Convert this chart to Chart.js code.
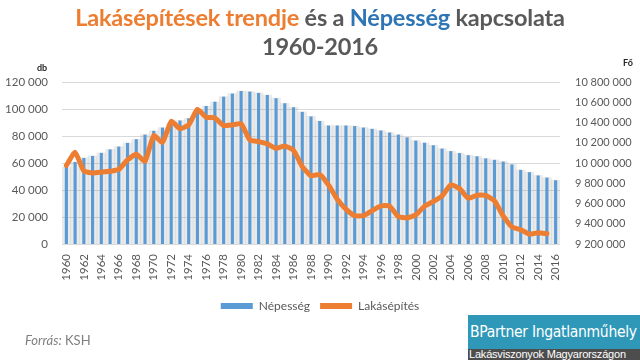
<!DOCTYPE html>
<html>
<head>
<meta charset="utf-8">
<script src="https://cdn.jsdelivr.net/npm/chart.js@4.4.1/dist/chart.umd.min.js"></script>
<style>
  html, body { margin: 0; padding: 0; background: #fff; }
  #wrap { position: relative; width: 640px; height: 360px; overflow: hidden; font-family: Lato, "Noto Sans", sans-serif; }
  #c { position: absolute; left: 0; top: 0; }
  .title { position: absolute; left: 0; width: 640px; text-align: center; font-weight: 700; font-size: 23.5px; line-height: 28px; color: #595959; letter-spacing: -0.2px; }
  .o { color: #ED7D31; } .b { color: #2E75B6; }
  .unit { position: absolute; font-weight: 700; font-size: 9px; color: #262626; }
  #src { position: absolute; left: 25px; top: 332px; font-size: 13px; color: #7f7f7f; }
  #logo { position: absolute; left: 468px; top: 315px; width: 172px; height: 45px; }
  #logo .top { height: 34px; background: #2f98b8; color: #fff; font-family: "DejaVu Sans Condensed", "Liberation Sans Narrow", sans-serif; font-size: 15.5px; line-height: 34px; padding-left: 2px; white-space: nowrap; letter-spacing: -0.3px; }
  #logo .bot { height: 11px; background: #4d4d4d; color: #fff; font-family: "Liberation Sans", sans-serif; font-size: 11px; line-height: 11px; padding-left: 1px; white-space: nowrap; letter-spacing: -0.2px; }
</style>
</head>
<body>
<div id="wrap">
  <canvas id="c" width="640" height="360"></canvas>
  <div class="title" style="top:3px;"><span class="o">Lakásépítések trendje</span> és a <span class="b">Népesség</span> kapcsolata</div>
  <div class="title" style="top:32px;">1960-2016</div>
  <div class="unit" style="left:37px; top:62px;">db</div>
  <div class="unit" style="left:623px; top:57px;">Fő</div>
  <div id="src"><i>Forrás:</i> KSH</div>
  <div id="logo"><div class="top">BPartner Ingatlanműhely</div><div class="bot">Lakásviszonyok Magyarországon</div></div>
</div>
<script>
const years = [
  "1960","1961","1962","1963","1964","1965","1966","1967","1968","1969",
  "1970","1971","1972","1973","1974","1975","1976","1977","1978","1979",
  "1980","1981","1982","1983","1984","1985","1986","1987","1988","1989",
  "1990","1991","1992","1993","1994","1995","1996","1997","1998","1999",
  "2000","2001","2002","2003","2004","2005","2006","2007","2008","2009",
  "2010","2011","2012","2013","2014","2015","2016"
];
const populationLabel = "Népesség";
const population = [
  9961000, 10010000, 10050000, 10070000, 10100000, 10134000, 10162000, 10198000, 10235000, 10280000,
  10318000, 10350000, 10395000, 10420000, 10442000, 10500000, 10563000, 10605000, 10655000, 10686000,
  10711000, 10705000, 10692000, 10672000, 10640000, 10590000, 10550000, 10505000, 10460000, 10415000,
  10370000, 10370000, 10370000, 10365000, 10350000, 10337000, 10321000, 10301000, 10280000, 10253000,
  10221000, 10200000, 10175000, 10142000, 10117000, 10098000, 10077000, 10066000, 10045000, 10031000,
  10014000, 9986000, 9932000, 9909000, 9877000, 9856000, 9830000
];
const dwellingsLabel = "Lakásépítés";
const dwellings = [
  58232, 67894, 54073, 52652, 53214, 53880, 55306, 62233, 66549, 61286,
  80276, 75324, 90836, 85427, 88128, 99707, 93917, 93354, 87728, 88211,
  89065, 77010, 75833, 74106, 70870, 72507, 69434, 57278, 50566, 51487,
  43771, 33164, 25807, 20925, 20947, 24718, 28257, 28130, 20323, 19287,
  21583, 28054, 31511, 35543, 43913, 41084, 33864, 36159, 36075, 31994,
  20823, 12655, 10560, 7293, 8358, 7612, null
];
const leftAxis = { min: 0, max: 120000, step: 20000 };
const rightAxis = { min: 9200000, max: 10800000, step: 200000 };

const fmt = v => String(v).replace(/\B(?=(\d{3})+(?!\d))/g, ' ');
const tickFont = { family: 'Lato, "Noto Sans", sans-serif', size: 11.5 };
const gray = '#595959';

new Chart(document.getElementById('c'), {
  data: {
    labels: years,
    datasets: [
      {
        type: 'bar', label: populationLabel, data: population, yAxisID: 'y2',
        base: rightAxis.min, grouped: false, order: 1,
        backgroundColor: '#5b9bd5', borderWidth: 0,
        barPercentage: 0.36, categoryPercentage: 1.0
      },
      {
        type: 'line', label: dwellingsLabel, data: dwellings, yAxisID: 'y',
        borderColor: '#ED7D31', backgroundColor: '#ED7D31', borderWidth: 5,
        pointRadius: 0, tension: 0.15, borderCapStyle: 'round', borderJoinStyle: 'round',
        order: 0, spanGaps: false
      },
      {
        type: 'bar', label: 'shadow', data: population, yAxisID: 'y2',
        base: rightAxis.min, grouped: false, order: 2,
        backgroundColor: 'rgba(150,150,150,0.2)', borderWidth: 0,
        barPercentage: 1.0, categoryPercentage: 1.0
      }
    ]
  },
  options: {
    responsive: false,
    animation: false,
    layout: { padding: { top: 82, left: 0, right: 0, bottom: 38 } },
    plugins: {
      title: { display: false },
      tooltip: { enabled: false },
      legend: {
        position: 'bottom',
        labels: {
          color: gray, font: { family: 'Lato, "Noto Sans", sans-serif', size: 12 },
          boxWidth: 32, boxHeight: 6, padding: 10,
          sort: (a, b) => a.datasetIndex - b.datasetIndex,
          generateLabels(chart) {
            const items = Chart.defaults.plugins.legend.labels.generateLabels(chart);
            return items.filter(i => i.datasetIndex !== 2).map(i => { i.lineWidth = 0; return i; });
          }
        }
      }
    },
    scales: {
      x: {
        grid: { display: false },
        border: { display: false },
        ticks: {
          autoSkip: false, maxRotation: 90, minRotation: 90, color: gray, font: tickFont, padding: 2,
          callback(v, i) { return i % 2 === 0 ? years[i] : ''; }
        },
        afterFit(s) { s.height = 46; }
      },
      y: {
        position: 'left', min: leftAxis.min, max: leftAxis.max,
        grid: { color: '#d9d9d9', lineWidth: 1, drawTicks: false },
        border: { display: false },
        ticks: { stepSize: leftAxis.step, color: gray, font: tickFont, padding: 14, callback: v => fmt(v) },
        afterFit(s) { s.width = 62; }
      },
      y2: {
        position: 'right', min: rightAxis.min, max: rightAxis.max,
        grid: { display: false, drawTicks: false },
        border: { display: false },
        ticks: { stepSize: rightAxis.step, color: gray, font: { family: tickFont.family, size: 11 }, padding: 15, callback: v => fmt(v) },
        afterFit(s) { s.width = 80; }
      }
    }
  }
});
</script>
</body>
</html>
